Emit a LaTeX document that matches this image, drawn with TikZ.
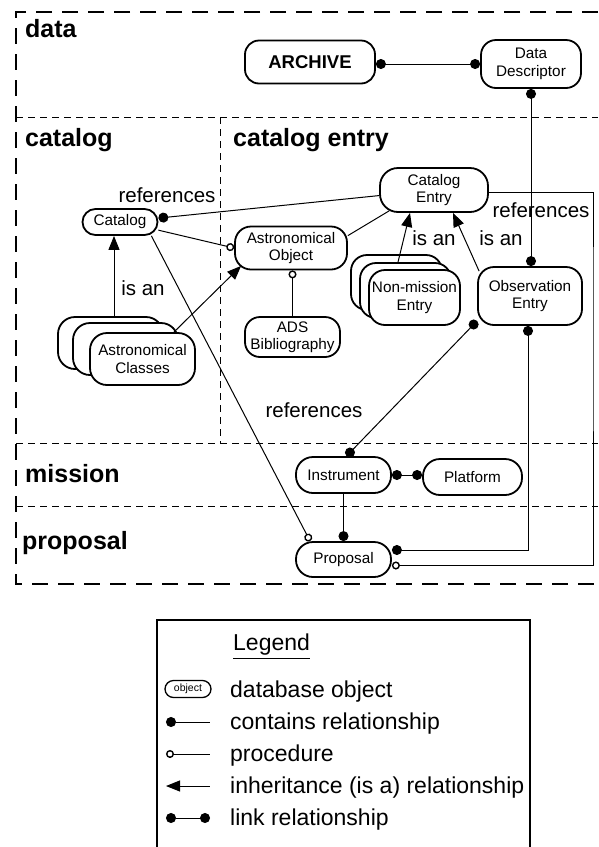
\documentclass[tikz,border=0pt]{standalone}
\usepackage{fontspec}
\setmainfont{Liberation Sans}
\usetikzlibrary{arrows.meta}
\newcommand\nfont{\fontsize{15.3}{17.5}\selectfont}
\newcommand\lbfont{\fontsize{20.5}{23}\selectfont}
\newcommand\hdfont{\fontsize{25}{28}\selectfont\bfseries}
\newcommand\arfont{\fontsize{18.5}{21}\selectfont\bfseries}
\newcommand\lgfont{\fontsize{23}{26}\selectfont}
\newcommand\obfont{\fontsize{10.5}{12}\selectfont}
\tikzset{
  bigdot/.tip={Circle[length=10pt]},
  odot/.tip={Circle[open,length=8pt,line width=1.4pt]},
  isa/.tip={Triangle[length=14pt,width=11pt]},
  obj/.style={draw, line width=1.8pt, fill=white, rounded corners=#1, inner sep=0pt, align=center, font=\nfont},
  conn/.style={line width=1pt},
  sect/.style={line width=1pt, dash pattern=on 7pt off 5pt},
  outer/.style={line width=2.5pt, dash pattern=on 16pt off 10pt},
  head/.style={font=\hdfont, inner sep=0pt, anchor=base west},
  lab/.style={font=\lbfont, inner sep=0pt},
  legtext/.style={font=\lgfont, inner sep=0pt, anchor=base west}
}
\begin{document}
\begin{tikzpicture}[x=1pt,y=-1pt]
\useasboundingbox (0,0) rectangle (598,847);
% section lines
\draw[sect] (16,117) -- (598,117);
\draw[sect] (220,117) -- (220,443);
\draw[sect] (16,443) -- (598,443);
\draw[sect] (16,506) -- (598,506);
\draw[outer] (598,12) -- (16,12) -- (16,584) -- (598,584);
% headings
\node[head] (hdata) at (25,37) {data};
\node[head] (hcat) at (25,146) {catalog};
\node[head] (hcate) at (233,146) {catalog entry};
\node[head] (hmis) at (25,482) {mission};
\node[head] (hprop) at (22,549) {proposal};
% nodes
\node[obj=14, font=\arfont, minimum width=130pt, minimum height=43pt] (archive) at (310,62) {ARCHIVE};
\node[obj=15, minimum width=100pt, minimum height=48pt] (dd) at (531,64) {Data\\Descriptor};
\node[obj=13, minimum width=75pt, minimum height=26pt] (catalog) at (120,222) {Catalog};
\node[obj=18, minimum width=108pt, minimum height=44pt] (catentry) at (434,190) {Catalog\\Entry};
\node[obj=16, minimum width=112pt, minimum height=43pt] (astro) at (291,248) {Astronomical\\Object};
\node[obj=15, minimum width=95pt, minimum height=40pt] (ads) at (292.5,337) {ADS\\Bibliography};
\node[obj=17, minimum width=105pt, minimum height=52pt] (classesB) at (110.5,343) {};
\node[obj=17, minimum width=105pt, minimum height=52pt] (classesM) at (125.5,349) {};
\node[obj=17, minimum width=105pt, minimum height=52pt] (classes) at (142.5,359) {Astronomical\\Classes};
\node[obj=16, minimum width=91pt, minimum height=55pt] (nmB) at (396.5,282.5) {};
\node[obj=16, minimum width=91pt, minimum height=55pt] (nmM) at (405.5,290.5) {};
\node[obj=16, minimum width=91pt, minimum height=55pt] (nm) at (414.5,297.5) {Non-mission\\Entry};
\node[obj=16, minimum width=104pt, minimum height=58pt] (obs) at (530,296) {Observation\\Entry};
\node[obj=17, minimum width=95pt, minimum height=36pt] (instrument) at (343.5,475) {Instrument};
\node[obj=17, minimum width=99pt, minimum height=36pt] (platform) at (472.5,477) {Platform};
\node[obj=17, minimum width=95pt, minimum height=35pt] (proposal) at (343.5,559.5) {Proposal};
% connectors
\draw[conn, bigdot-bigdot] (archive.east |- dd.west) -- (dd.west);
\draw[conn, bigdot-bigdot] (dd.south) -- (dd.south |- obs.north);
\draw[conn, -bigdot] (catentry) -- (catalog);
\draw[conn, -odot] (catalog.-12) -- (astro.west);
\draw[conn] ([xshift=10pt,yshift=2pt]catentry.south west) -- ([yshift=-10pt]astro.north east);
\draw[conn, -odot] (ads.north) -- (ads.north |- astro.south);
\draw[conn, -isa] ([xshift=3.5pt]classesB.north) -- ([xshift=3.5pt]classesB.north |- catalog.south);
\draw[conn, -isa] ([xshift=-22pt]classes.north east) -- ([xshift=7pt,yshift=4.5pt]astro.south west);
\draw[conn, -isa] ([xshift=-7.5pt]nmM.north) -- ([xshift=-24pt]catentry.south);
\draw[conn, -isa] ([xshift=2pt,yshift=-5pt]obs.north west) -- ([xshift=19pt]catentry.south);
\draw[conn, bigdot-bigdot] ([yshift=5pt]obs.south west) -- ([xshift=3pt]instrument.north);
\draw[conn, bigdot-bigdot] (instrument.east) -- (instrument.east -| platform.west);
\draw[conn, -bigdot] (instrument.south) -- (proposal.north);
\draw[conn, -odot] ([xshift=-7pt]catalog.south east) -- ([xshift=15pt]proposal.north west);
\draw[conn, bigdot-bigdot] ([xshift=-2pt]obs.south) |- ([yshift=9.5pt]proposal.east);
\coordinate (rail) at (593,300);
\draw[conn, -odot] ([yshift=-2pt]catentry.east) -| (rail) |- ([yshift=-6pt]proposal.east);
% labels
\node[lab] (l1) at (167,195) {references};
\node[lab] (l2) at (143,288) {is an};
\node[lab] (l3) at (434,238) {is an};
\node[lab] (l4) at (501,238) {is an};
\node[lab] (l5) at (541,210) {references};
\node[lab] (l6) at (314,410) {references};
% legend
\draw[line width=1.8pt] (157,900) -- (157,620) -- (530,620) -- (530,900);
\node[legtext] (legt) at (233,650) {Legend};
\draw[line width=1pt] ([yshift=-8pt]legt.base west) -- ([yshift=-8pt]legt.base east);
\node[obj=8.5, font=\obfont, line width=1.3pt, minimum width=46pt, minimum height=17pt] (lobj) at (188,689) {object};
\node[legtext] (t1) at (230,697) {database object};
\coordinate (c1a) at (166,722); \coordinate (c1b) at (210,722);
\draw[conn, bigdot-] (c1a) -- (c1b);
\node[legtext] (t2) at (230,729) {contains relationship};
\coordinate (c2a) at (166,754); \coordinate (c2b) at (210,754);
\draw[conn, odot-] (c2a) -- (c2b);
\node[legtext] (t3) at (230,761) {procedure};
\coordinate (c3a) at (166,786); \coordinate (c3b) at (210,786);
\draw[conn, isa-] (c3a) -- (c3b);
\node[legtext] (t4) at (230,793) {inheritance (is a) relationship};
\coordinate (c4a) at (166,818); \coordinate (c4b) at (210,818);
\draw[conn, bigdot-bigdot] (c4a) -- (c4b);
\node[legtext] (t5) at (230,825) {link relationship};
\end{tikzpicture}
\end{document}
